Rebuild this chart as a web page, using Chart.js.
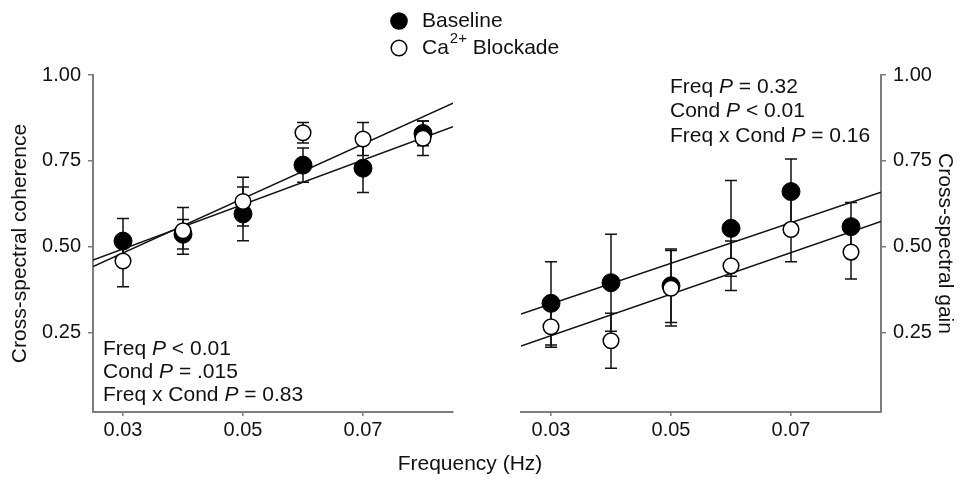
<!DOCTYPE html>
<html>
<head>
<meta charset="utf-8">
<title>Cross-spectral coherence and gain</title>
<script src="https://cdn.jsdelivr.net/npm/chart.js@4.4.1/dist/chart.umd.min.js"></script>
<style>
    html, body { margin: 0; padding: 0; background: #fff; }
    #wrap { position: relative; width: 961px; height: 480px; }
    #wrap canvas { position: absolute; left: 0; top: 0; }
</style>
</head>
<body>
<div id="wrap">
    <canvas id="coherence-chart" width="961" height="480"></canvas>
    <canvas id="gain-chart" width="961" height="480"></canvas>
</div>
<script>
// Frequencies (Hz)
const freqs = [0.03, 0.04, 0.05, 0.06, 0.07, 0.08];

// Cross-spectral coherence (left panel)
const cohBaseline = [0.517, 0.537, 0.596, 0.738, 0.729, 0.830];
const cohBaselineErr = [0.066, 0.043, 0.078, 0.050, 0.071, 0.036];
const cohBlockade = [0.459, 0.547, 0.632, 0.832, 0.814, 0.816];
const cohBlockadeErr = [0.075, 0.068, 0.071, 0.030, 0.048, 0.050];

// Cross-spectral gain (right panel)
const gainBaseline = [0.336, 0.396, 0.387, 0.554, 0.661, 0.559];
const gainBaselineErr = [0.121, 0.141, 0.107, 0.139, 0.095, 0.070];
const gainBlockade = [0.268, 0.227, 0.380, 0.445, 0.551, 0.485];
const gainBlockadeErr = [0.060, 0.080, 0.110, 0.072, 0.094, 0.078];

// Regression lines, value at each end of the x range
const fitFreqs = [0.025, 0.085];
const cohBaselineFit = [0.462, 0.850];
const cohBlockadeFit = [0.443, 0.918];
const gainBaselineFit = [0.305, 0.659];
const gainBlockadeFit = [0.212, 0.574];

// Tick labels
const xTicks = [0.03, 0.05, 0.07];
const yTicks = [0.25, 0.50, 0.75, 1.00];

// Statistics text: [before P, after P]
const cohStats = [["Freq ", " < 0.01"], ["Cond ", " = .015"], ["Freq x Cond ", " = 0.83"]];
const gainStats = [["Freq ", " = 0.32"], ["Cond ", " < 0.01"], ["Freq x Cond ", " = 0.16"]];

const FONT = "'Liberation Sans', Arial, Helvetica, sans-serif";
const AXIS_GREY = '#7d7d7d';
const INK = '#111';

const pointsOf = (values) => freqs.map((f, i) => ({ x: f, y: values[i] }));
const fitOf = (values) => fitFreqs.map((f, i) => ({ x: f, y: values[i] }));

// Error bars, drawn under the markers
const errorBarPlugin = {
    id: 'errorBars',
    beforeDatasetsDraw(chart) {
        const { ctx, scales: { x, y } } = chart;
        ctx.save();
        ctx.strokeStyle = INK;
        ctx.lineWidth = 1.5;
        chart.data.datasets.forEach(ds => {
            if (!ds.errors) return;
            ds.data.forEach((p, i) => {
                const px = x.getPixelForValue(p.x);
                const top = y.getPixelForValue(p.y + ds.errors[i]);
                const bot = y.getPixelForValue(p.y - ds.errors[i]);
                ctx.beginPath();
                ctx.moveTo(px, top); ctx.lineTo(px, bot);
                ctx.moveTo(px - 6, top); ctx.lineTo(px + 6, top);
                ctx.moveTo(px - 6, bot); ctx.lineTo(px + 6, bot);
                ctx.stroke();
            });
        });
        ctx.restore();
    }
};

// Statistics block with italic P
const statsPlugin = {
    id: 'statsText',
    afterDraw(chart, args, opts) {
        const ctx = chart.ctx;
        ctx.save();
        ctx.fillStyle = INK;
        ctx.textBaseline = 'alphabetic';
        ctx.textAlign = 'left';
        opts.lines.forEach((ln, i) => {
            const by = opts.baselines[i];
            let cx = opts.x;
            ctx.font = `21px ${FONT}`;
            ctx.fillText(ln[0], cx, by);
            cx += ctx.measureText(ln[0]).width;
            ctx.font = `italic 21px ${FONT}`;
            ctx.fillText('P', cx, by);
            cx += ctx.measureText('P').width;
            ctx.font = `21px ${FONT}`;
            ctx.fillText(ln[1], cx, by);
        });
        ctx.restore();
    }
};

// Legend and shared x title (spans both panels)
const sharedTextPlugin = {
    id: 'sharedText',
    afterDraw(chart) {
        const ctx = chart.ctx;
        ctx.save();
        // filled marker
        ctx.beginPath();
        ctx.arc(399, 21, 8.8, 0, Math.PI * 2);
        ctx.fillStyle = '#000';
        ctx.fill();
        // open marker
        ctx.beginPath();
        ctx.arc(399, 48, 7.8, 0, Math.PI * 2);
        ctx.fillStyle = '#fff';
        ctx.fill();
        ctx.lineWidth = 1.5;
        ctx.strokeStyle = '#000';
        ctx.stroke();

        ctx.fillStyle = INK;
        ctx.textAlign = 'left';
        ctx.textBaseline = 'alphabetic';
        ctx.font = `21px ${FONT}`;
        ctx.fillText('Baseline', 422, 27);
        let cx = 422;
        ctx.fillText('Ca', cx, 54);
        cx += ctx.measureText('Ca').width + 1;
        ctx.font = `15px ${FONT}`;
        ctx.fillText('2+', cx, 43);
        cx += ctx.measureText('2+').width;
        ctx.font = `21px ${FONT}`;
        ctx.fillText(' Blockade', cx, 54);

        ctx.textAlign = 'center';
        ctx.fillText('Frequency (Hz)', 470, 470);
        ctx.restore();
    }
};

function xScale() {
    return {
        type: 'linear',
        min: 0.025,
        max: 0.085,
        afterBuildTicks: s => { s.ticks = xTicks.map(v => ({ value: v })); },
        afterFit: s => { s.height = 68; },
        grid: { drawOnChartArea: false, color: AXIS_GREY, tickLength: 4, lineWidth: 1.5 },
        border: { color: AXIS_GREY, width: 2 },
        ticks: {
            color: INK,
            font: { family: FONT, size: 20 },
            padding: 2,
            maxRotation: 0,
            autoSkip: false,
            callback: v => v.toFixed(2)
        }
    };
}

function yScale(position, title, width, titlePad) {
    return {
        type: 'linear',
        position: position,
        min: 0.02,
        max: 1.0,
        afterBuildTicks: s => { s.ticks = yTicks.map(v => ({ value: v })); },
        afterFit: s => { s.width = width; },
        grid: { drawOnChartArea: false, color: AXIS_GREY, tickLength: 5, lineWidth: 1.5 },
        border: { color: AXIS_GREY, width: 2 },
        title: {
            display: true,
            text: title,
            color: INK,
            font: { family: FONT, size: 21 },
            padding: { top: titlePad, bottom: 0 }
        },
        ticks: {
            color: INK,
            font: { family: FONT, size: 20 },
            padding: 7,
            autoSkip: false,
            callback: v => v.toFixed(2)
        }
    };
}

function buildDatasets(base, baseErr, block, blockErr, baseFit, blockFit) {
    return [{
        label: 'Ca2+ Blockade',
        data: pointsOf(block),
        errors: blockErr,
        pointRadius: 7.8,
        pointBackgroundColor: '#fff',
        pointBorderColor: '#000',
        pointBorderWidth: 1.5,
        order: 0,
        clip: false
    }, {
        label: 'Baseline',
        data: pointsOf(base),
        errors: baseErr,
        pointRadius: 9,
        pointBackgroundColor: '#000',
        pointBorderColor: '#000',
        pointBorderWidth: 1,
        order: 1,
        clip: false
    }, {
        label: 'Baseline fit',
        data: fitOf(baseFit),
        showLine: true,
        borderColor: INK,
        borderWidth: 1.5,
        pointRadius: 0,
        order: 2
    }, {
        label: 'Blockade fit',
        data: fitOf(blockFit),
        showLine: true,
        borderColor: INK,
        borderWidth: 1.5,
        pointRadius: 0,
        order: 2
    }];
}

function baseOptions(padding) {
    return {
        responsive: false,
        devicePixelRatio: 1,
        animation: false,
        layout: { padding: padding },
        plugins: {
            legend: { display: false },
            tooltip: { enabled: false }
        }
    };
}

// Left panel: coherence
const cohOptions = baseOptions({ left: 0, top: 75, right: 961 - 453, bottom: 0 });
cohOptions.scales = { x: xScale(), y: yScale('left', 'Cross-spectral coherence', 93, 8) };
cohOptions.plugins.statsText = { lines: cohStats, x: 103, baselines: [355, 378, 401] };

new Chart(document.getElementById('coherence-chart'), {
    type: 'scatter',
    data: { datasets: buildDatasets(cohBaseline, cohBaselineErr, cohBlockade, cohBlockadeErr, cohBaselineFit, cohBlockadeFit) },
    options: cohOptions,
    plugins: [errorBarPlugin, statsPlugin, sharedTextPlugin]
});

// Right panel: gain
const gainOptions = baseOptions({ left: 521, top: 75, right: 0, bottom: 0 });
gainOptions.scales = { x: xScale(), y: yScale('right', 'Cross-spectral gain', 80, 4) };
gainOptions.plugins.statsText = { lines: gainStats, x: 670, baselines: [93, 117, 142] };

new Chart(document.getElementById('gain-chart'), {
    type: 'scatter',
    data: { datasets: buildDatasets(gainBaseline, gainBaselineErr, gainBlockade, gainBlockadeErr, gainBaselineFit, gainBlockadeFit) },
    options: gainOptions,
    plugins: [errorBarPlugin, statsPlugin]
});
</script>
</body>
</html>
